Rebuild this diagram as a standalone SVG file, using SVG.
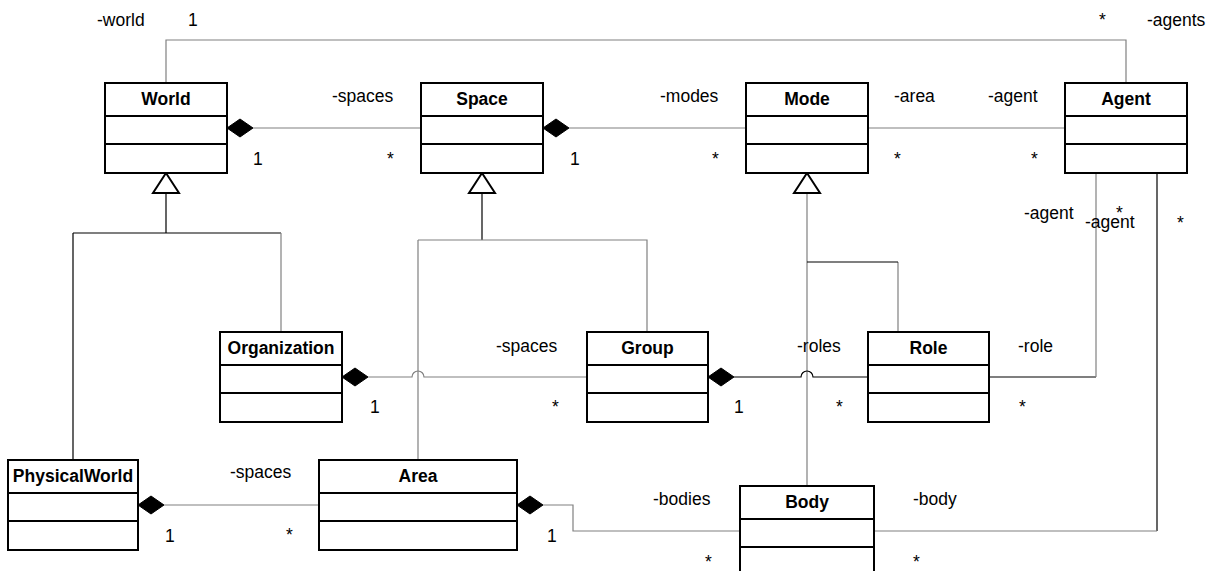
<svg xmlns="http://www.w3.org/2000/svg" width="1215" height="571" viewBox="0 0 1215 571">
<style>
.box{fill:#fff;stroke:#000;stroke-width:2}
.dv{stroke:#000;stroke-width:2}
.name{font-family:"Liberation Sans",Arial,sans-serif;font-size:17.5px;font-weight:bold;text-anchor:middle;fill:#000}
.lbl{font-family:"Liberation Sans",Arial,sans-serif;font-size:17.5px;fill:#000}
.c{fill:none;stroke:#808080;stroke-width:1.2}
.k{fill:none;stroke:#000;stroke-width:1.2}
.dia{fill:#000;stroke:#000;stroke-width:1}
.tri{fill:#fff;stroke:#000;stroke-width:2}
</style>
<rect width="1215" height="571" fill="#fff"/>
<g id="connectors">
<path class="c" d="M166 83 V40 H1126 V83"/>
<path class="c" d="M253 128 H421"/>
<polygon class="dia" points="227,128 240,119 253,128 240,137"/>
<path class="c" d="M569 128 H746"/>
<polygon class="dia" points="543,128 556,119 569,128 556,137"/>
<path class="c" d="M868 128 H1065"/>
<path class="k" d="M166 193 V233 M73 233 H281 M73 233 V460"/>
<path class="c" d="M281 233 V332"/>
<polygon class="tri" points="166,173 153,193 179,193"/>
<path class="k" d="M482 193 V240"/>
<path class="c" d="M418 240 H647 V332 M418 240 V460"/>
<polygon class="tri" points="482,173 469,193 495,193"/>
<path class="c" d="M807 193 V486 M898 262 V332"/>
<path class="k" d="M807 262 H898"/>
<polygon class="tri" points="807,173 794,193 820,193"/>
<path class="c" d="M368 377 H412 A6 6 0 0 1 424 377 H587"/>
<polygon class="dia" points="342,377 355,368 368,377 355,386"/>
<path class="k" d="M734 377 H801 A6 6 0 0 1 813 377 H868"/>
<polygon class="dia" points="708,377 721,368 734,377 721,386"/>
<path class="k" d="M989 377 H1096"/>
<path class="c" d="M1096 377 V173"/>
<path class="k" d="M1157 173 V531"/>
<path class="c" d="M1157 531 H874"/>
<path class="c" d="M164 505 H319"/>
<polygon class="dia" points="138,505 151,496 164,505 151,514"/>
<path class="c" d="M543 505 H573 V531 H740"/>
<polygon class="dia" points="517,505 530,496 543,505 530,514"/>
</g>
<g id="World">
<rect class="box" x="105" y="83" width="122" height="90"/>
<path class="dv" d="M105 116 H227 M105 144 H227"/>
<text class="name" x="166" y="105">World</text>
</g>
<g id="Space">
<rect class="box" x="421" y="83" width="122" height="90"/>
<path class="dv" d="M421 116 H543 M421 144 H543"/>
<text class="name" x="482" y="105">Space</text>
</g>
<g id="Mode">
<rect class="box" x="746" y="83" width="122" height="90"/>
<path class="dv" d="M746 116 H868 M746 144 H868"/>
<text class="name" x="807" y="105">Mode</text>
</g>
<g id="Agent">
<rect class="box" x="1065" y="83" width="122" height="90"/>
<path class="dv" d="M1065 116 H1187 M1065 144 H1187"/>
<text class="name" x="1126" y="105">Agent</text>
</g>
<g id="Organization">
<rect class="box" x="220" y="332" width="122" height="90"/>
<path class="dv" d="M220 365 H342 M220 393 H342"/>
<text class="name" x="281" y="354">Organization</text>
</g>
<g id="Group">
<rect class="box" x="587" y="332" width="121" height="90"/>
<path class="dv" d="M587 365 H708 M587 393 H708"/>
<text class="name" x="647.5" y="354">Group</text>
</g>
<g id="Role">
<rect class="box" x="868" y="332" width="121" height="90"/>
<path class="dv" d="M868 365 H989 M868 393 H989"/>
<text class="name" x="928.5" y="354">Role</text>
</g>
<g id="PhysicalWorld">
<rect class="box" x="8" y="460" width="130" height="90"/>
<path class="dv" d="M8 493 H138 M8 521 H138"/>
<text class="name" x="73" y="482">PhysicalWorld</text>
</g>
<g id="Area">
<rect class="box" x="319" y="460" width="198" height="90"/>
<path class="dv" d="M319 493 H517 M319 521 H517"/>
<text class="name" x="418" y="482">Area</text>
</g>
<g id="Body">
<rect class="box" x="740" y="486" width="134" height="90"/>
<path class="dv" d="M740 519 H874 M740 547 H874"/>
<text class="name" x="807" y="508">Body</text>
</g>
<g id="labels">
<text class="lbl" x="97" y="26">-world</text>
<text class="lbl" x="188" y="26">1</text>
<text class="lbl" x="1099" y="26">*</text>
<text class="lbl" x="1147" y="26">-agents</text>
<text class="lbl" x="332" y="102">-spaces</text>
<text class="lbl" x="253" y="165">1</text>
<text class="lbl" x="387" y="165">*</text>
<text class="lbl" x="660" y="102">-modes</text>
<text class="lbl" x="570" y="165">1</text>
<text class="lbl" x="712" y="165">*</text>
<text class="lbl" x="894" y="102">-area</text>
<text class="lbl" x="988" y="102">-agent</text>
<text class="lbl" x="894" y="165">*</text>
<text class="lbl" x="1031" y="165">*</text>
<text class="lbl" x="1024" y="219">-agent</text>
<text class="lbl" x="1116" y="219">*</text>
<text class="lbl" x="1085" y="228">-agent</text>
<text class="lbl" x="1177" y="229">*</text>
<text class="lbl" x="370" y="413">1</text>
<text class="lbl" x="496" y="352">-spaces</text>
<text class="lbl" x="552" y="413">*</text>
<text class="lbl" x="734" y="413">1</text>
<text class="lbl" x="797" y="352">-roles</text>
<text class="lbl" x="836" y="413">*</text>
<text class="lbl" x="1018" y="352">-role</text>
<text class="lbl" x="1019" y="413">*</text>
<text class="lbl" x="230" y="478">-spaces</text>
<text class="lbl" x="165" y="542">1</text>
<text class="lbl" x="286" y="541">*</text>
<text class="lbl" x="547" y="542">1</text>
<text class="lbl" x="653" y="505">-bodies</text>
<text class="lbl" x="705" y="568">*</text>
<text class="lbl" x="913" y="505">-body</text>
<text class="lbl" x="913" y="568">*</text>
</g>
</svg>
